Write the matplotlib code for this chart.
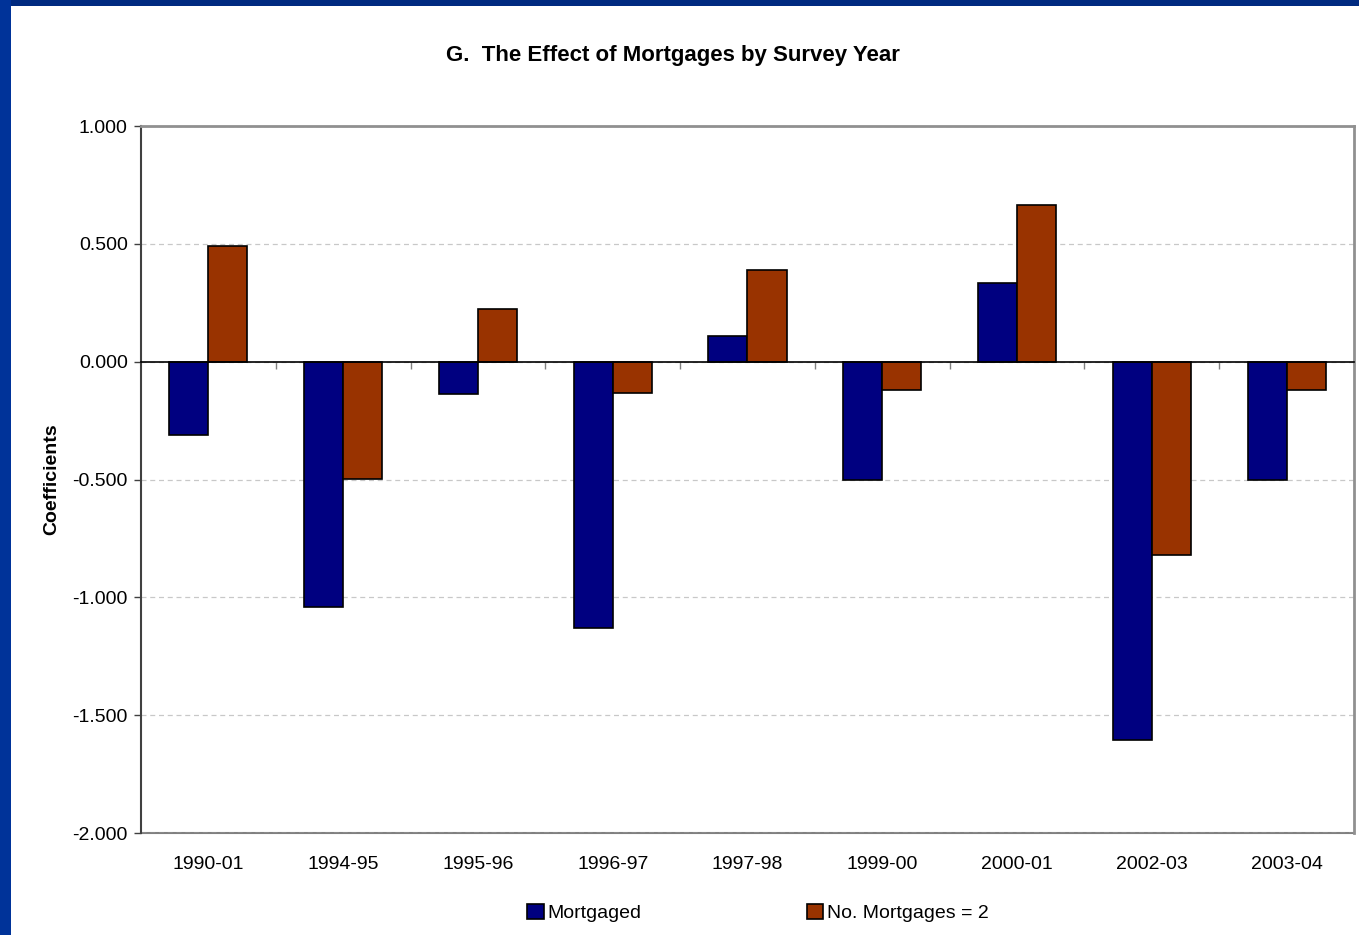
import numpy as np
import matplotlib.pyplot as plt
from matplotlib.patches import Rectangle

plt.rcParams['font.family'] = ['Liberation Sans', 'DejaVu Sans']

years = ['1990-01', '1994-95', '1995-96', '1996-97', '1997-98',
         '1999-00', '2000-01', '2002-03', '2003-04']
mortgaged = [-0.311, -1.041, -0.137, -1.130, 0.109, -0.502, 0.334, -1.605, -0.502]
two_mortgages = [0.491, -0.498, 0.223, -0.133, 0.389, -0.120, 0.665, -0.820, -0.120]

fig = plt.figure(figsize=(13.59, 9.35), dpi=100)
# blue slide frame on top and left
fig.patches.append(Rectangle((0, 1 - 6 / 935), 1, 6 / 935, transform=fig.transFigure,
                             facecolor='#002a80', edgecolor='none', zorder=0))
fig.patches.append(Rectangle((0, 0), 11 / 1359, 1, transform=fig.transFigure,
                             facecolor='#003399', edgecolor='none', zorder=0))

ax = fig.add_axes([141 / 1359, 102 / 935, 1213 / 1359, 707 / 935])
x = np.arange(len(years))
w = 0.29
ax.bar(x - w / 2, mortgaged, w, color='#000080', edgecolor='black', linewidth=1.2,
       label='Mortgaged', zorder=3)
ax.bar(x + w / 2, two_mortgages, w, color='#993300', edgecolor='black', linewidth=1.2,
       label='No. Mortgages = 2', zorder=3)

ax.set_xlim(-0.5, len(years) - 0.5)
ax.set_ylim(-2.0, 1.0)
ax.set_yticks(np.arange(-2.0, 1.01, 0.5))
ax.set_yticklabels([f'{v:.3f}' for v in np.arange(-2.0, 1.01, 0.5)], fontsize=14)
ax.yaxis.grid(True, linestyle=(0, (4, 3)), color='#c8c8c8', linewidth=0.9, zorder=0)
ax.tick_params(axis='y', direction='out', length=5, width=1, color='#404040', pad=4.5)

# zero axis with tick marks between categories
ax.spines['bottom'].set_position(('data', 0))
ax.spines['bottom'].set_color('black')
ax.spines['bottom'].set_linewidth(1.2)
ax.spines['bottom'].set_zorder(4)
ax.set_xticks(np.arange(0.5, len(years) - 0.5, 1.0))
ax.set_xticklabels([])
ax.tick_params(axis='x', direction='out', length=5, width=1, color='#808080')

for s in ['top', 'right']:
    ax.spines[s].set_color('#909090')
    ax.spines[s].set_linewidth(2)
ax.spines['left'].set_color('#404040')
ax.spines['left'].set_linewidth(1.5)

# category labels along the bottom frame
sec = ax.secondary_xaxis(0.0)
sec.set_xticks(x)
sec.set_xticklabels(years, fontsize=14)
sec.tick_params(length=0, pad=16.5)
sec.spines['bottom'].set_color('#808080')
sec.spines['bottom'].set_linewidth(1.5)

ax.set_ylabel('Coefficients', fontsize=14, fontweight='bold', labelpad=9)
fig.text(673 / 1359, 1 - 56 / 935, 'G.  The Effect of Mortgages by Survey Year',
         ha='center', va='center', fontsize=16, fontweight='bold')

fig.legend(loc='center', bbox_to_anchor=(758 / 1359, 1 - 913 / 935), ncol=2,
           frameon=False, fontsize=14, handlelength=0.85, handleheight=0.85,
           handletextpad=0.2, columnspacing=8.5)

fig.savefig('out.png', dpi=100)
